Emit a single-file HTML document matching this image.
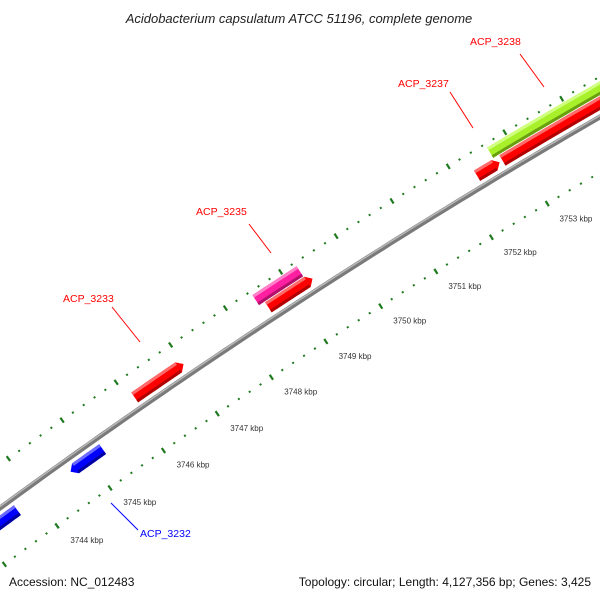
<!DOCTYPE html>
<html><head><meta charset="utf-8">
<style>
html,body{margin:0;padding:0;background:#fff;overflow:hidden;}
svg{display:block;font-family:"Liberation Sans",sans-serif;}
</style></head>
<body>
<svg id="chart" width="600" height="600" viewBox="0 0 600 600">
<text x="299" y="23" text-anchor="middle" font-size="13" font-style="italic" fill="#222">Acidobacterium capsulatum ATCC 51196, complete genome</text>
<g id="ticks"></g>
<g id="backbone"></g>
<g id="genes"></g>
<g id="labels"></g>
<text x="9" y="586" font-size="12" fill="#111">Accession: NC_012483</text>
<text x="591" y="586" font-size="12" text-anchor="end" fill="#111">Topology: circular; Length: 4,127,356 bp; Genes: 3,425</text>
</svg>
<script>
const kbpTicks = [3744,3745,3746,3747,3748,3749,3750,3751,3752,3753,3754,3755];
const tickLabels = ["3744 kbp","3745 kbp","3746 kbp","3747 kbp","3748 kbp","3749 kbp","3750 kbp","3751 kbp","3752 kbp","3753 kbp","3754 kbp","3755 kbp"];
const geneNames = ["ACP_3231","ACP_3232","ACP_3233","ACP_3235","ACP_3234","ACP_3237","ACP_3236","ACP_3238"];
const geneStarts = [3743.0,3744.65,3746.1,3748.45,3748.55,3752.3,3752.75,3752.65];
const geneEnds = [3743.65,3745.25,3747.0,3749.25,3749.35,3752.7,3756.5,3756.5];
const geneStrand = [-1,-1,1,1,1,1,1,1];
const geneTrack = [-12,-12,12,25,12,12,12,25];
const geneColor = ["blue","blue","red","pink","red","red","red","green"];

const NS="http://www.w3.org/2000/svg";
const P=[[0,508],[300,301],[600,117]];
function circ(a,b,c){
  const d=2*(a[0]*(b[1]-c[1])+b[0]*(c[1]-a[1])+c[0]*(a[1]-b[1]));
  const s=p=>p[0]*p[0]+p[1]*p[1];
  const ux=(s(a)*(b[1]-c[1])+s(b)*(c[1]-a[1])+s(c)*(a[1]-b[1]))/d;
  const uy=(s(a)*(c[0]-b[0])+s(b)*(a[0]-c[0])+s(c)*(b[0]-a[0]))/d;
  return [ux,uy,Math.hypot(a[0]-ux,a[1]-uy)];
}
const [cx,cy,R]=circ(P[0],P[1],P[2]);
const INNER=-48, OUTER=35;
const ref=[108,485];
const th0=Math.atan2(ref[1]-cy,ref[0]-cx);
const dth=0.988*66/(R+INNER);
function ang(k){return th0+(k-3745)*dth;}
function pt(k,off){const a=ang(k),r=R+off;return [cx+r*Math.cos(a),cy+r*Math.sin(a)];}
function mk(tag,attrs,parent){const e=document.createElementNS(NS,tag);for(const k in attrs)e.setAttribute(k,attrs[k]);parent.appendChild(e);return e;}
function arcPath(k1,k2,off,n){let s="";for(let i=0;i<=n;i++){const p=pt(k1+(k2-k1)*i/n,off);s+=(i?"L":"M")+p[0].toFixed(1)+","+p[1].toFixed(1);}return s;}

const bb=document.getElementById('backbone');
const b1=mk('path',{d:arcPath(3740,3757,0,120),stroke:'#7a7a7a','stroke-width':5,fill:'none'},bb);


const b2=mk('path',{d:arcPath(3740,3757,1.3,120),stroke:'#b8b8b8','stroke-width':1.5,fill:'none'},bb);



const tg=document.getElementById('ticks');
for(let k=3742;k<=3756.001;k+=0.2){
  const major=Math.abs(k-Math.round(k))<0.01;
  [OUTER,INNER].forEach(off=>{
    const len=major?6:2;
    const a=pt(k,off-len/2),b=pt(k,off+len/2);
    const l=mk('line',{x1:a[0],y1:a[1],x2:b[0],y2:b[1],stroke:'#1f7a1f','stroke-width':major?2.2:2},tg);
    
    
  });
}
kbpTicks.forEach((k,i)=>{
  const p=pt(k,INNER-16);
  const t=mk('text',{x:p[0]+4,y:p[1]+4,'font-size':8,fill:'#333'},tg);
  t.textContent=tickLabels[i];
  
  
});

const colors={red:['#ff0000','#ff6a6a','#b00000'],blue:['#0000ff','#6a6aff','#0000a0'],pink:['#ff1fa0','#ff7fc8','#b0106a'],green:['#a8f02a','#d0ff80','#6aa010']};
const gg=document.getElementById('genes');
geneNames.forEach((name,i)=>{
  const s=geneStarts[i],e=geneEnds[i],off=geneTrack[i],w=12;
  const arrow=geneColor[i]!=='pink'&&geneColor[i]!=='green';
  const ah=arrow?6/(R+off)/dth:0;
  const c=colors[geneColor[i]];
  const g=mk('g',{},gg);
  
  
  let tipK,bodyS=s,bodyE=e;
  if(geneStrand[i]>0){bodyE=e-ah;tipK=e;}else{bodyS=s+ah;tipK=s;}
  const n=20;
  let pts=[];
  for(let j=0;j<=n;j++)pts.push(pt(bodyS+(bodyE-bodyS)*j/n,off+w/2));
  if(arrow&&geneStrand[i]>0)pts.push(pt(tipK,off));
  for(let j=n;j>=0;j--)pts.push(pt(bodyS+(bodyE-bodyS)*j/n,off-w/2));
  if(arrow&&geneStrand[i]<0)pts.push(pt(tipK,off));
  const poly=mk('polygon',{points:pts.map(p=>p[0].toFixed(1)+","+p[1].toFixed(1)).join(" "),fill:c[0]},g);
  
  
  const hl=mk('path',{d:arcPath(bodyS,bodyE,off+w/2-1.5,20),stroke:c[1],'stroke-width':3,fill:'none'},g);
  
  
  const sh=mk('path',{d:arcPath(bodyS,bodyE,off-w/2+1.5,20),stroke:c[2],'stroke-width':3,fill:'none'},g);
  
  
});

const lg=document.getElementById('labels');
const labs=[["ACP_3233",63,302,"#ff0000",112,307,140,342],["ACP_3235",196,215,"#ff0000",249,224,271,253],["ACP_3237",398,87,"#ff0000",450,92,473,128],["ACP_3238",470,45,"#ff0000",520,54,544,87],["ACP_3232",140,537,"#0000ff",111,503,138,530]];
labs.forEach(l=>{
  const ln=mk('line',{x1:l[4],y1:l[5],x2:l[6],y2:l[7],stroke:l[3],'stroke-width':1},lg);
  
  
  const t=mk('text',{x:l[1],y:l[2],'font-size':10.5,fill:l[3]},lg);
  t.textContent=l[0];
  
  
});
</script>
</body></html>
